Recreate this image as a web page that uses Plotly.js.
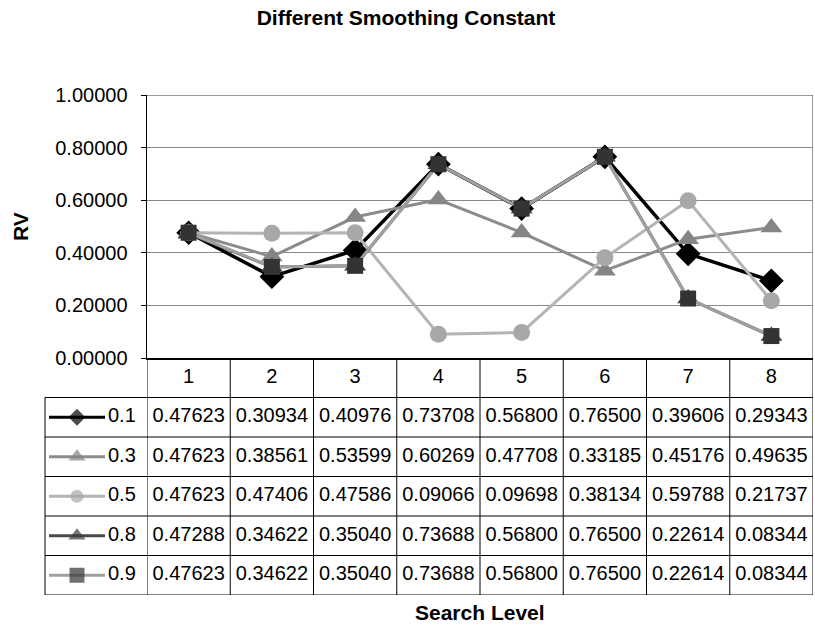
<!DOCTYPE html>
<html>
<head>
<meta charset="utf-8">
<script src="https://cdn.plot.ly/plotly-3.0.1.min.js"></script>
<style>html,body{margin:0;padding:0;background:#fff;}#chart{width:815px;height:625px;}</style>
</head>
<body>
<div id="chart"></div>
<script>
// ---- data ----
const levels = [1, 2, 3, 4, 5, 6, 7, 8];
const levelLabels = ["1", "2", "3", "4", "5", "6", "7", "8"];
const seriesNames = ["0.1", "0.3", "0.5", "0.8", "0.9"];
const s01 = [0.47623, 0.30934, 0.40976, 0.73708, 0.56800, 0.76500, 0.39606, 0.29343];
const s03 = [0.47623, 0.38561, 0.53599, 0.60269, 0.47708, 0.33185, 0.45176, 0.49635];
const s05 = [0.47623, 0.47406, 0.47586, 0.09066, 0.09698, 0.38134, 0.59788, 0.21737];
const s08 = [0.47288, 0.34622, 0.35040, 0.73688, 0.56800, 0.76500, 0.22614, 0.08344];
const s09 = [0.47623, 0.34622, 0.35040, 0.73688, 0.56800, 0.76500, 0.22614, 0.08344];
const yTicks = [0, 0.2, 0.4, 0.6, 0.8, 1.0];

const seriesValues = [s01, s03, s05, s08, s09];
const styles = [
  {line: '#000000', marker: '#000000', symbol: 'diamond', size: 19, lsize: 13, lw: 3.5},
  {line: '#8c8c8c', marker: '#858585', symbol: 'triangle-up', size: 19, lsize: 15, lw: 3},
  {line: '#b4b4b4', marker: '#a8a8a8', symbol: 'circle', size: 17, lsize: 13, lw: 3},
  {line: '#4a4a4a', marker: '#3c3c3c', symbol: 'triangle-up', size: 19, lsize: 15, lw: 3},
  {line: '#a0a0a0', marker: '#333333', symbol: 'square', size: 16, lsize: 15, lw: 3}
];

const FONT = 'Liberation Sans, Arial, Helvetica, sans-serif';
const W = 815, H = 625;
const px = v => v / W;
const py = v => (H - v) / H;

const traces = [];
// chart lines
seriesValues.forEach((vals, i) => {
  const st = styles[i];
  traces.push({
    type: 'scatter', mode: 'lines+markers', x: levels, y: vals, name: seriesNames[i],
    xaxis: 'x', yaxis: 'y', cliponaxis: false, showlegend: false, hoverinfo: 'skip',
    line: {color: st.line, width: st.lw},
    marker: {symbol: st.symbol, size: st.size, color: st.marker, line: {width: 0}}
  });
});
// table header
traces.push({
  type: 'scatter', mode: 'text', x: levels, y: levels.map(() => 0.5), text: levelLabels,
  xaxis: 'x', yaxis: 'y3', cliponaxis: false, showlegend: false, hoverinfo: 'skip',
  textfont: {family: FONT, size: 20, color: '#000'}, textposition: 'middle center'
});
// table values
seriesValues.forEach((vals, i) => {
  traces.push({
    type: 'scatter', mode: 'text', x: levels, y: levels.map(() => i + 1.5),
    text: vals.map(v => v.toFixed(5)),
    xaxis: 'x', yaxis: 'y3', cliponaxis: false, showlegend: false, hoverinfo: 'skip',
    textfont: {family: FONT, size: 20, color: '#000'}, textposition: 'middle center'
  });
});
// legend keys in first column
seriesNames.forEach((nm, i) => {
  const st = styles[i];
  traces.push({
    type: 'scatter', mode: 'lines+markers', x: [4, 32, 60], y: [i + 1.5, i + 1.5, i + 1.5],
    xaxis: 'x2', yaxis: 'y3', cliponaxis: false, showlegend: false, hoverinfo: 'skip',
    line: {color: st.line, width: 3},
    marker: {symbol: st.symbol, size: [0, st.lsize, 0], color: st.marker, line: {width: 0}}
  });
  traces.push({
    type: 'scatter', mode: 'text', x: [63], y: [i + 1.5], text: [nm],
    xaxis: 'x2', yaxis: 'y3', cliponaxis: false, showlegend: false, hoverinfo: 'skip',
    textfont: {family: FONT, size: 20, color: '#000'}, textposition: 'middle right'
  });
});

const shapes = [];
// plot top & right borders (gray)
shapes.push({type: 'line', xref: 'x', yref: 'y', x0: 0.5, x1: 8.5, y0: 1, y1: 1, line: {color: '#7a7a7a', width: 1.5}});
shapes.push({type: 'line', xref: 'x', yref: 'y', x0: 8.5, x1: 8.5, y0: 0, y1: 1, line: {color: '#7a7a7a', width: 1.5}});
// table horizontal lines
for (let r = 1; r <= 6; r++) {
  shapes.push({type: 'line', xref: 'paper', yref: 'y3', x0: px(45), x1: px(813), y0: r, y1: r, line: {color: '#000', width: 1}});
}
// table vertical lines
for (let c = 0; c <= 8; c++) {
  shapes.push({type: 'line', xref: 'x', yref: 'y3', x0: c + 0.5, x1: c + 0.5, y0: 0, y1: 6, line: {color: '#000', width: 1}});
}
// legend column left border
shapes.push({type: 'line', xref: 'paper', yref: 'y3', x0: px(45), x1: px(45), y0: 1, y1: 6, line: {color: '#000', width: 1}});

const layout = {
  width: W, height: H,
  margin: {l: 0, r: 0, t: 0, b: 0},
  paper_bgcolor: '#fff', plot_bgcolor: 'rgba(0,0,0,0)',
  font: {family: FONT, size: 20, color: '#000'},
  showlegend: false,
  title: {text: '<b>Different Smoothing Constant</b>', font: {family: FONT, size: 21, color: '#000'},
          x: px(406), xanchor: 'center', y: py(18), yanchor: 'middle', xref: 'paper', yref: 'paper'},
  xaxis: {domain: [px(147), px(813)], range: [0.5, 8.5], anchor: 'y', showticklabels: false,
          showgrid: false, zeroline: false, showline: true, linecolor: '#000', linewidth: 1.5, ticks: '', fixedrange: true},
  yaxis: {domain: [py(358), py(95)], range: [0, 1], anchor: 'x', tickvals: yTicks,
          ticktext: yTicks.map(v => v.toFixed(5)), ticks: 'outside', ticklen: 5, tickcolor: '#000',
          ticklabelstandoff: 9,
          showgrid: true, gridcolor: '#8a8a8a', gridwidth: 1, zeroline: false,
          showline: true, linecolor: '#000', linewidth: 1.5, fixedrange: true,
          tickfont: {family: FONT, size: 20, color: '#000'}},
  xaxis2: {domain: [px(45), px(147)], range: [0, 102], anchor: 'y3', visible: false, fixedrange: true},
  yaxis3: {domain: [py(595), py(358)], range: [6, 0], anchor: 'x', visible: false, fixedrange: true},
  shapes: shapes,
  annotations: [
    {text: '<b>RV</b>', xref: 'paper', yref: 'paper', x: px(21), y: py(227), textangle: -90,
     showarrow: false, font: {family: FONT, size: 21, color: '#000'}, xanchor: 'center', yanchor: 'middle'},
    {text: '<b>Search Level</b>', xref: 'paper', yref: 'paper', x: px(480), y: py(612),
     showarrow: false, font: {family: FONT, size: 21, color: '#000'}, xanchor: 'center', yanchor: 'middle'}
  ]
};

Plotly.newPlot('chart', traces, layout, {staticPlot: true, displayModeBar: false});
</script>
</body>
</html>
